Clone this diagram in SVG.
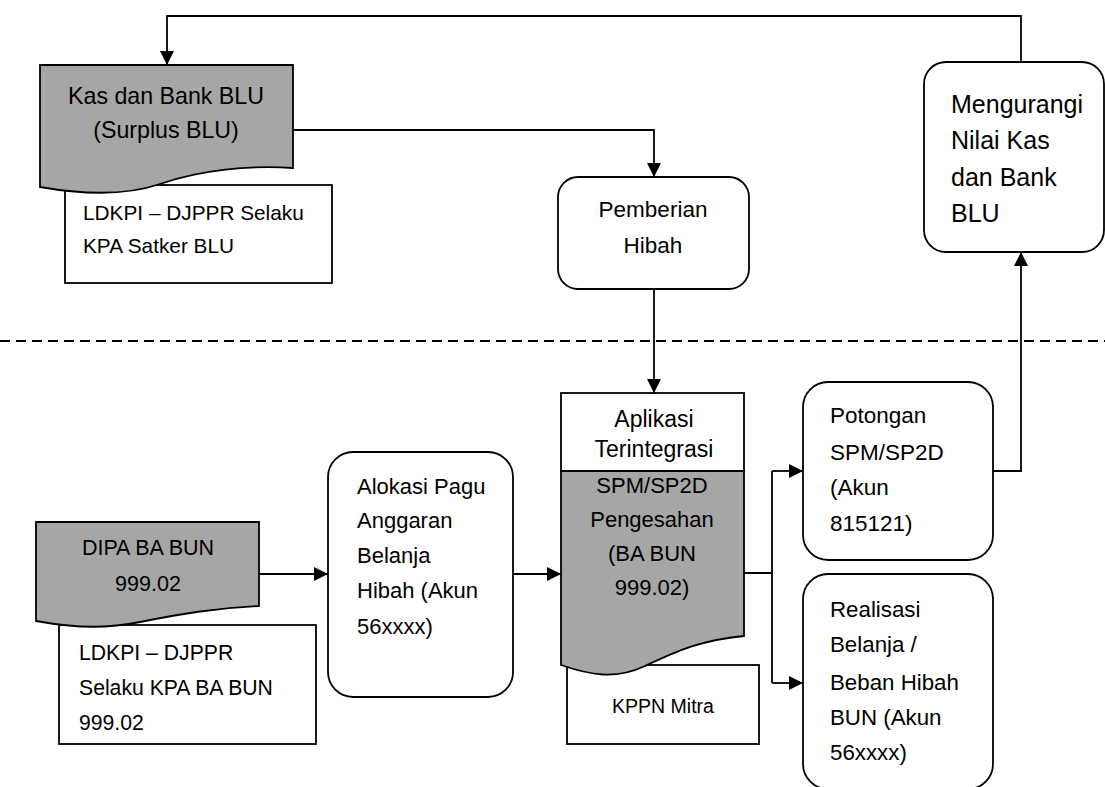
<svg xmlns="http://www.w3.org/2000/svg" width="1105" height="787" viewBox="0 0 1105 787">
<defs>
<marker id="arr" markerUnits="userSpaceOnUse" markerWidth="14" markerHeight="14" refX="14" refY="7" orient="auto">
<path d="M0,0 L14,7 L0,14 Z" fill="#000"/>
</marker>
<style>
.box{fill:#fff;stroke:#000;stroke-width:1.8}
.doc{fill:#a6a6a6;stroke:#000;stroke-width:1.8}
.ln{fill:none;stroke:#000;stroke-width:1.8}
.dash{fill:none;stroke:#000;stroke-width:1.8;stroke-dasharray:10 6}
text{font-family:"Liberation Sans",Arial,sans-serif;fill:#000}
.c{text-anchor:middle}
</style>
</defs>
<rect width="1105" height="787" fill="#fff"/>

<g id="connectors">
<line class="dash" x1="0" y1="341" x2="1105" y2="341"/>
<path class="ln" d="M1021,62 V16 H167 V65" marker-end="url(#arr)"/>
<path class="ln" d="M293,130 H654 V177" marker-end="url(#arr)"/>
<path class="ln" d="M654,289 V393" marker-end="url(#arr)"/>
<path class="ln" d="M259,574 H328" marker-end="url(#arr)"/>
<path class="ln" d="M513,574 H561" marker-end="url(#arr)"/>
<path class="ln" d="M744,573 H772 M772,471 V683"/>
<path class="ln" d="M772,471 H803" marker-end="url(#arr)"/>
<path class="ln" d="M772,683 H803" marker-end="url(#arr)"/>
<path class="ln" d="M993,471 H1021 V252" marker-end="url(#arr)"/>
</g>

<g id="ldkpi-blu">
<rect class="box" x="65" y="185" width="267" height="98"/>
<text x="83" y="220" font-size="20.8">LDKPI – DJPPR Selaku</text>
<text x="83" y="253" font-size="20.8">KPA Satker BLU</text>
</g>

<g id="kas-bank-blu">
<path class="doc" d="M40,65 H293 V168 C250,165 200,170 160,184 C125,196 80,194 40,187 Z"/>
<text class="c" x="166" y="104" font-size="23.2">Kas dan Bank BLU</text>
<text class="c" x="166" y="138" font-size="23.2">(Surplus BLU)</text>
</g>

<g id="pemberian-hibah">
<rect class="box" x="558" y="177" width="191" height="112" rx="20"/>
<text class="c" x="653" y="217" font-size="22.5">Pemberian</text>
<text class="c" x="653" y="253" font-size="22.5">Hibah</text>
</g>

<g id="mengurangi">
<rect class="box" x="924" y="62" width="180" height="190" rx="22"/>
<text x="951" y="113" font-size="25">Mengurangi</text>
<text x="951" y="149" font-size="25">Nilai Kas</text>
<text x="951" y="186" font-size="25">dan Bank</text>
<text x="951" y="222" font-size="25">BLU</text>
</g>

<g id="ldkpi-bun">
<rect class="box" x="59" y="625" width="257" height="119"/>
<text x="79" y="660" font-size="21.2">LDKPI – DJPPR</text>
<text x="79" y="695" font-size="21.2">Selaku KPA BA BUN</text>
<text x="79" y="730" font-size="21.2">999.02</text>
</g>

<g id="dipa">
<path class="doc" d="M36,522 H259 V606 C215,608 180,614 140,622 C110,628 80,629 36,621 Z"/>
<text class="c" x="148" y="555" font-size="21.5">DIPA BA BUN</text>
<text class="c" x="148" y="591" font-size="21.5">999.02</text>
</g>

<g id="alokasi">
<rect class="box" x="328" y="452" width="185" height="245" rx="25"/>
<text x="357" y="494" font-size="22">Alokasi Pagu</text>
<text x="357" y="528" font-size="22">Anggaran</text>
<text x="357" y="563" font-size="22">Belanja</text>
<text x="357" y="598" font-size="22">Hibah (Akun</text>
<text x="357" y="634" font-size="22">56xxxx)</text>
</g>

<g id="kppn-mitra">
<rect class="box" x="567" y="665" width="192" height="79"/>
<text class="c" x="663" y="713" font-size="19.5">KPPN Mitra</text>
</g>

<g id="aplikasi">
<rect class="box" x="561" y="393" width="183" height="78"/>
<text class="c" x="654" y="427" font-size="23">Aplikasi</text>
<text class="c" x="654" y="457" font-size="23">Terintegrasi</text>
<path class="doc" d="M561,471 H744 V636 C700,640 675,652 645,666 C615,680 590,675 561,665 Z"/>
<text class="c" x="652" y="493" font-size="22">SPM/SP2D</text>
<text class="c" x="652" y="527" font-size="22">Pengesahan</text>
<text class="c" x="652" y="561" font-size="22">(BA BUN</text>
<text class="c" x="652" y="595" font-size="22">999.02)</text>
</g>

<g id="potongan">
<rect class="box" x="803" y="382" width="190" height="178" rx="25"/>
<text x="830" y="423" font-size="22.5">Potongan</text>
<text x="830" y="460" font-size="22.5">SPM/SP2D</text>
<text x="830" y="495" font-size="22.5">(Akun</text>
<text x="830" y="531" font-size="22.5">815121)</text>
</g>

<g id="realisasi">
<rect class="box" x="803" y="574" width="190" height="215" rx="25"/>
<text x="830" y="617" font-size="22.3">Realisasi</text>
<text x="830" y="652" font-size="22.3">Belanja /</text>
<text x="830" y="690" font-size="22.3">Beban Hibah</text>
<text x="830" y="725" font-size="22.3">BUN (Akun</text>
<text x="830" y="760" font-size="22.3">56xxxx)</text>
</g>
</svg>
